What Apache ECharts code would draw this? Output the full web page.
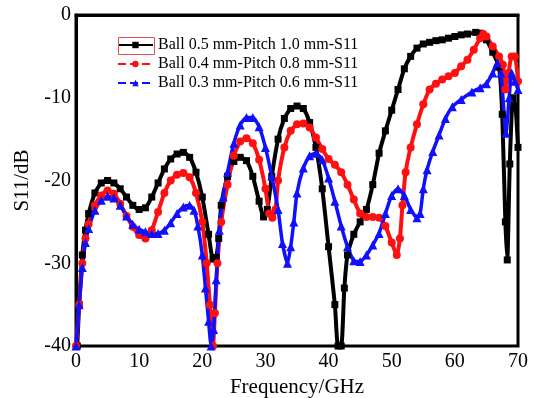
<!DOCTYPE html>
<html>
<head>
<meta charset="utf-8">
<script src="https://cdn.jsdelivr.net/npm/echarts@6/dist/echarts.min.js"></script>
<style>
  html, body { margin: 0; padding: 0; background: #fff; }
  #chart { width: 536px; height: 398px; }
</style>
</head>
<body>
<div id="chart"></div>
<script>
// series names
const seriesNames = [
  'Ball 0.5 mm-Pitch 1.0 mm-S11',
  'Ball 0.4 mm-Pitch 0.8 mm-S11',
  'Ball 0.3 mm-Pitch 0.6 mm-S11'
]

// [frequency GHz, S11 dB]
const blackData = [
  [0.2, -40], [0.5, -35], [1, -29], [1.5, -26], [2, -24], [3, -21.5], [4, -20.3], [5, -20], [6, -20.3],
  [7, -21], [8, -22], [9, -23], [10, -23.5], [11, -23.3], [12, -22], [13, -20.3], [14, -18.6],
  [15, -17.4], [16, -16.8], [17, -16.6], [18, -17.2], [19, -19], [20, -22], [21, -26.5],
  [21.7, -29.5], [22.2, -29.3], [22.6, -27], [23, -23], [24, -19.5], [25, -17.7], [26, -17.2],
  [27, -17.6], [28, -19.5], [29, -22.5], [29.7, -24.4], [30.3, -23.5], [31, -19.5], [32, -15],
  [33, -12.5], [34, -11.3], [35, -11], [36, -11.3], [37, -13], [38, -16], [39, -21], [40, -28],
  [41, -35], [41.5, -40], [42, -40], [42.5, -33], [43, -29], [44, -26.5], [45, -25], [46, -23.5],
  [47, -20.5], [48, -16.7], [49, -14], [50, -11.5], [51, -9], [52, -6.5], [53, -5], [54, -4],
  [55, -3.5], [56, -3.3], [57, -3.1], [58, -3], [59, -2.8], [60, -2.6], [61, -2.4], [62, -2.3],
  [63.3, -2.1], [64, -2.2], [65, -3], [66, -4.5], [67, -6.3], [67.5, -12], [68, -25], [68.3, -29.6],
  [68.7, -18], [69.2, -10], [69.6, -11], [70, -16]
]

const redData = [
  [0, -40], [0.5, -35], [1, -30], [1.5, -27], [2, -25.3], [3, -23], [4, -21.8], [5, -21.2], [6, -21.6],
  [7, -22.8], [8, -24.3], [9, -25.6], [10, -26.6], [11, -27], [12, -26], [13, -23.8], [14, -21.5],
  [15, -20], [16, -19.3], [17, -19.1], [18, -19.6], [19, -21.5], [20, -25], [20.7, -30], [21.2, -35],
  [21.7, -40], [22, -36], [22.4, -30], [23, -25], [24, -20.5], [25, -17], [26, -15.3], [27, -14.9],
  [28, -15.5], [29, -17.5], [30, -21], [30.6, -24], [31.1, -24.5], [31.6, -23.5], [32, -20],
  [33, -16], [34, -14], [35, -13.2], [36, -13.1], [37, -13.6], [38, -14.8], [39, -16.2], [40, -17.4],
  [41, -18.1], [42, -19], [43, -20.5], [44, -22.3], [45, -24], [46, -24.4], [47, -24.4], [48, -24.5],
  [49, -25.5], [50, -27.5], [50.8, -29], [51.3, -27], [51.7, -23], [52.2, -19], [53, -16], [54, -13.2],
  [55, -10.8], [56, -9], [57, -8.3], [58, -7.8], [59, -7.4], [60, -7], [61, -6.2], [62, -5.4],
  [63, -4.2], [64, -2.8], [64.5, -2.3], [65, -2.6], [66, -3.8], [67, -5], [67.6, -6], [68, -9],
  [68.5, -7], [69, -5], [69.5, -5], [70, -8]
]

const blueData = [
  [0, -40], [0.5, -35], [1, -30.5], [1.5, -27.5], [2, -25.8], [3, -23.6], [4, -22.4], [5, -21.9],
  [6, -22.1], [7, -23], [8, -24.3], [9, -25.3], [10, -25.9], [11, -26.2], [12, -26.4], [13, -26.4],
  [14, -26], [15, -25.1], [16, -24], [17, -23.2], [18, -23], [18.7, -23.6], [19.3, -25.5], [20, -29],
  [20.5, -33], [21, -37], [21.4, -40], [21.8, -38], [22.2, -32], [22.7, -26], [23.3, -22], [24, -19],
  [25, -15.5], [26, -13.3], [27, -12.4], [28, -12.4], [29, -13.5], [30, -16], [31, -19.5], [32, -23.5],
  [32.7, -27.6], [33.5, -30], [34, -28], [34.5, -25], [35, -21.5], [36, -18.5], [37, -17], [38, -16.7],
  [39, -17.5], [40, -19.7], [41, -22.5], [42, -25.5], [43, -28], [44, -29.7], [45, -29.8], [46, -29],
  [47, -27.8], [48, -26.4], [49, -24], [50, -21.8], [51, -21], [52, -21.8], [53, -23.5], [54, -24.5],
  [54.5, -24], [55, -21], [55.6, -18.7], [56.5, -16.5], [57.5, -14.5], [58.5, -12.5], [59.6, -11.1],
  [61, -10.2], [62.7, -9.3], [64, -8.8], [65, -8.3], [66, -7], [66.7, -5.8], [67.3, -7], [68.1, -14.3],
  [68.6, -10], [69, -7], [69.5, -8], [70, -9]
]

const FONT = 'Liberation Serif'
const BLACK = '#000000'
const RED = '#ff1010'
const BLUE = '#1010ff'

const chart = echarts.init(document.getElementById('chart'))

const makeSeries = (name, data, color, symbol, size, width) => ({
  name: name,
  type: 'line',
  data: data,
  smooth: 0.2,
  symbol: symbol,
  symbolSize: size,
  showAllSymbol: true,
  lineStyle: { color: color, width: width },
  itemStyle: { color: color },
  emphasis: { disabled: true },
  z: 3
})

chart.setOption({
  animation: false,
  backgroundColor: '#fff',
  grid: {
    left: 76,
    top: 15,
    width: 442,
    height: 331,
    outerBoundsMode: 'none',
    show: true,
    borderColor: BLACK,
    borderWidth: 3,
    backgroundColor: '#fff'
  },
  legend: {
    left: 112,
    top: 32,
    orient: 'vertical',
    itemWidth: 35,
    itemHeight: 8,
    itemGap: 3,
    textStyle: { fontFamily: FONT, fontSize: 16, color: BLACK },
    data: [
      { name: seriesNames[0] },
      { name: seriesNames[1], lineStyle: { type: [8, 4] } },
      { name: seriesNames[2], lineStyle: { type: [8, 4] } }
    ]
  },
  xAxis: {
    type: 'value',
    min: 0,
    max: 70,
    interval: 10,
    name: 'Frequency/GHz',
    nameLocation: 'middle',
    nameGap: 30,
    nameTextStyle: { fontFamily: FONT, fontSize: 21, color: BLACK },
    axisLine: { lineStyle: { color: BLACK, width: 3 } },
    axisTick: { show: false },
    splitLine: { show: false },
    axisLabel: { fontFamily: FONT, fontSize: 20, color: BLACK, margin: 6 }
  },
  yAxis: {
    type: 'value',
    min: -40,
    max: 0,
    interval: 10,
    name: 'S11/dB',
    nameLocation: 'middle',
    nameGap: 42,
    nameTextStyle: { fontFamily: FONT, fontSize: 21, color: BLACK },
    axisLine: { lineStyle: { color: BLACK, width: 3 } },
    axisTick: { show: false },
    splitLine: { show: false },
    axisLabel: { fontFamily: FONT, fontSize: 20, color: BLACK, margin: 5 }
  },
  graphic: [
    {
      type: 'rect',
      left: 116,
      top: 35,
      shape: { width: 36, height: 17 },
      style: { fill: 'none', stroke: '#e05050', lineWidth: 1 },
      z: 100
    }
  ],
  series: [
    makeSeries(seriesNames[0], blackData, BLACK, 'rect', 7, 4),
    makeSeries(seriesNames[1], redData, RED, 'circle', 8, 4),
    makeSeries(seriesNames[2], blueData, BLUE, 'triangle', 9, 3.5)
  ]
})
</script>
</body>
</html>
